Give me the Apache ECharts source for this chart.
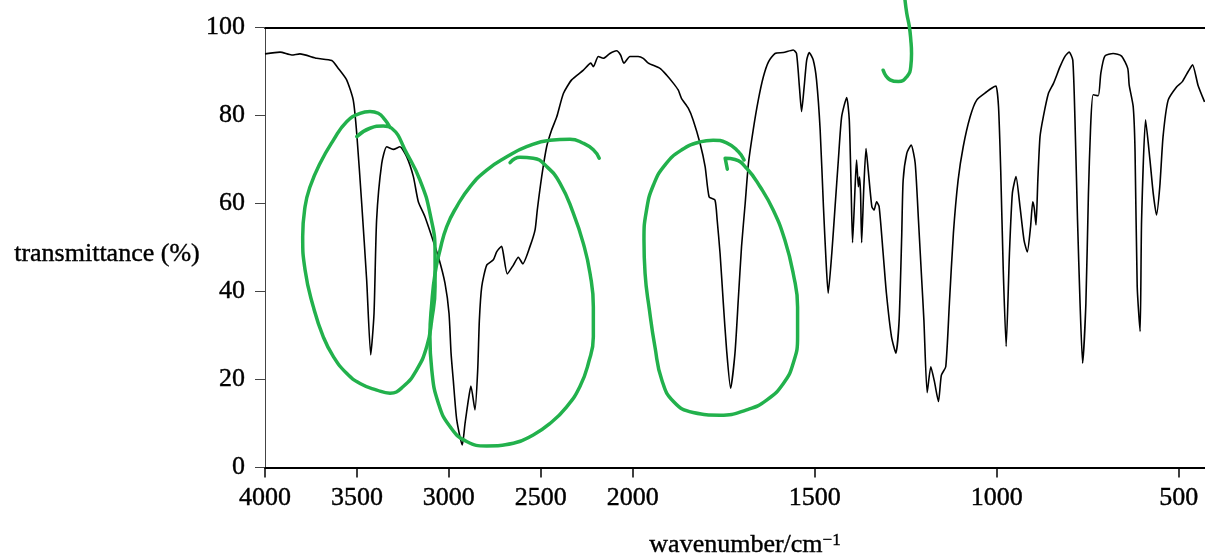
<!DOCTYPE html>
<html>
<head>
<meta charset="utf-8">
<script src="https://cdn.jsdelivr.net/npm/echarts@6/dist/echarts.min.js"></script>
<style>
html,body{margin:0;padding:0;background:#fff;}
#chart{width:1205px;height:558px;}
</style>
</head>
<body>
<div id="chart"></div>
<script>
// ---- data ----
const xTickLabels = [4000, 3500, 3000, 2500, 2000, 1500, 1000, 500];
const yTickLabels = [0, 20, 40, 60, 80, 100];

const wavenumber = [4000,3918,3855,3810,3719,3637,3601,3556,3520,3501,3474,3447,3425,3407,3393,3365,3338,3302,3266,3229,3193,3166,3130,3093,3057,3021,2999,2988,2976,2957,2927,2912,2894,2880,2858,2843,2834,2821,2794,2758,2740,2713,2704,2682,2649,2622,2598,2559,2531,2519,2495,2468,2441,2413,2377,2332,2268,2228,2214,2187,2160,2124,2088,2066,2048,2015,2003,1985,1971,1957,1925,1907,1888,1875,1866,1847,1834,1815,1801,1790,1774,1768,1760,1751,1742,1731,1719,1710,1701,1691,1682,1669,1655,1641,1627,1609,1586,1559,1550,1542,1536,1529,1522,1515,1504,1495,1485,1476,1469,1463,1453,1444,1435,1426,1412,1405,1400,1396,1389,1385,1380,1377,1374,1371,1365,1359,1353,1343,1337,1330,1323,1312,1303,1289,1277,1268,1261,1257,1247,1235,1224,1215,1206,1200,1191,1181,1171,1160,1152,1140,1130,1119,1106,1092,1073,1055,1027,1014,1002,995,989,982,974,965,957,947,936,925,916,907,901,897,892,887,881,872,858,844,826,812,801,791,785,778,771,764,755,748,742,735,721,714,703,680,657,640,636,625,620,614,606,602,591,579,570,561,552,543,529,506,490,474,462,447,429];
const transmittance = [94.0,94.4,93.75,94.0,93.0,92.5,90.7,88.1,83.5,75.9,60,42.6,25.6,35,56.2,69.1,72.9,72.3,72.9,70.6,66.1,60.4,57.0,52.5,47.9,41.9,35,26,19.9,10.8,5.1,10,15.3,18.5,13.1,22.2,33.5,41.1,46,47.2,49,50.3,48.7,44,46,47.8,46.3,50.2,54,58.5,66.1,72.9,76.7,79.7,85,88.1,90.3,91.9,91.1,93.4,93.0,94.1,94.7,93.75,91.9,93.4,93.4,93.4,93.0,91.9,90.7,89.2,87.3,85.8,83.9,81.6,79,73.7,68.4,61.5,60.8,56.3,48.7,37.3,26.7,18,26,38,50.2,60,69.1,76.7,83.5,88.8,92.2,94.1,94.3,94.9,94.1,86.5,80.9,86.5,92.6,94.3,92.6,88.1,76.7,59.3,47.2,39.6,48.7,59.3,69.9,79.7,84.1,79,63.8,51.1,63.8,69.9,63.8,66,62.3,51.1,63.8,72.5,67.6,59.3,58.5,60.4,59.3,48.7,39.6,29.7,26,33.5,52.5,65.3,71.4,73.3,69.2,56.3,42.6,33.5,17,22.9,19.5,15,21,22.9,37.3,53.2,65.3,72.9,79.7,83.5,85.4,86.2,86.7,82,67.6,44.9,27.5,48.7,62.3,66.1,59.3,51.7,49,54.7,60.4,59,55.1,65.3,75.2,79.7,85,87.3,91.1,93.5,94.4,92.6,79,56.3,37.3,23.7,37.3,62.3,77.5,84.7,84.5,89.6,93.5,94.1,93.5,90.7,86.9,82,72,41.1,30.9,56.2,79,69.9,62.3,57.4,63.8,75.2,83.5,86.5,87.7,90,91.5,86.9,83.1];

// hand-drawn green annotations (wavenumber, transmittance)
const loop1W = [3501,3429,3357,3311,3229,3157,3103,3075,3075,3093,3120,3175,3248,3320,3392,3483,3556,3628,3683,3737,3782,3795,3782,3755,3701,3628,3556,3483,3429,3384,3347,3320];
const loop1T = [75.2,77.1,77.6,77.1,71.4,65.3,57.8,48.7,41.1,33.5,27.5,22.2,18.4,16.9,17.6,19.1,21.4,25.2,29.7,36.5,44.9,52.5,59.3,63.8,69.1,74.4,78.6,80.5,80.9,80.5,79.0,77.3];
const loop2W = [2667,2613,2541,2468,2395,2323,2269,2232,2214,2214,2241,2287,2359,2450,2541,2649,2794,2903,2994,3057,3093,3103,3093,3075,3048,3012,2957,2885,2794,2685,2577,2450,2341,2269,2214,2182];
const loop2T = [69.3,70.5,70.3,68.4,64.6,57.8,51.0,44.1,36.5,29.7,23.7,18.4,13.8,10.0,7.4,5.5,4.9,5.9,9.3,14.6,22.2,29.7,37.3,44.1,49.4,54.7,59.3,63.8,67.6,70.6,72.9,74.4,74.6,73.7,72.2,70.3];
const loop3W = [1740,1746,1719,1687,1650,1614,1582,1559,1547,1547,1559,1586,1632,1687,1760,1834,1888,1920,1939,1954,1966,1969,1962,1943,1911,1865,1815,1779,1742,1710,1694];
const loop3T = [67.8,70.3,70.0,68.0,63.8,58.5,51.7,44.1,36.5,29.7,23.7,19.1,15.3,13.1,11.9,12.5,15.0,19.9,27.5,35.8,44.1,51.7,58.5,64.2,68.8,72.2,74.0,74.4,73.8,71.8,69.9];
const hookW = [1252,1247,1240,1236,1234,1236,1247,1270,1293,1312];
const hookT = [106.3,103.2,100.2,97.2,94.1,91.1,88.8,87.7,88.1,90.3];

// ---- axis mapping: scale doubles below 2000 cm-1 ----
const R = 1.98;
function toAxis(w) { return w >= 2000 ? 4000 - w : 2000 + (2000 - w) * R; }
function fromAxis(u) { return u <= 2000 ? 4000 - u : 2000 - (u - 2000) / R; }
function pairs(ws, ts) { return ws.map((w, i) => [toAxis(w), ts[i]]); }

const FONT = "'Liberation Serif', 'Times New Roman', serif";
const FS = 26;
const TXT = {fontFamily: FONT, fontSize: FS, color: '#000', textBorderColor: '#000', textBorderWidth: 0.4};
const xMax = 5113;
const xTickPos = xTickLabels.map(toAxis);

const chart = echarts.init(document.getElementById('chart'), null, {renderer: 'canvas'});
const green = '#22b14c';
function greenSeries(ws, ts, clip) {
  return {
    type: 'line', data: pairs(ws, ts), showSymbol: false, smooth: 0.5,
    clip: clip, silent: true, z: 5,
    lineStyle: {color: green, width: 3.5, cap: 'round', join: 'round'}
  };
}

chart.setOption({
  animation: false,
  backgroundColor: '#fff',
  grid: {left: 265, right: 0, top: 27.5, bottom: 90.5, containLabel: false, outerBoundsMode: 'none'},
  xAxis: [{
    type: 'value', min: 0, max: xMax, position: 'bottom',
    name: '{a|wavenumber/cm}{s|\u22121}',
    nameLocation: 'middle', nameGap: 65,
    nameTextStyle: {
      padding: [0, 0, 0, 20],
      rich: {
        a: Object.assign({}, TXT),
        s: Object.assign({}, TXT, {fontSize: 17, verticalAlign: 'top'})
      }
    },
    axisLine: {show: true, onZero: false, lineStyle: {color: '#000', width: 2}},
    axisTick: {show: true, customValues: xTickPos, length: 10, lineStyle: {color: '#000', width: 1.5}},
    axisLabel: Object.assign({
      customValues: xTickPos, margin: 18,
      formatter: v => String(Math.round(fromAxis(v) / 10) * 10)
    }, TXT),
    splitLine: {show: false}
  }, {
    type: 'value', min: 0, max: xMax, position: 'top',
    axisLine: {show: true, onZero: false, lineStyle: {color: '#000', width: 2}},
    axisTick: {show: false}, axisLabel: {show: false}, splitLine: {show: false}
  }],
  yAxis: {
    type: 'value', min: yTickLabels[0], max: yTickLabels[yTickLabels.length - 1], interval: 20,
    name: 'transmittance (%)', nameLocation: 'middle', nameRotate: 0, nameGap: 65,
    nameTextStyle: Object.assign({verticalAlign: 'top', lineHeight: 14}, TXT),
    axisLine: {show: true, lineStyle: {color: '#444', width: 1}},
    axisTick: {show: true, length: 10, lineStyle: {color: '#444', width: 1}},
    axisLabel: Object.assign({margin: 20}, TXT),
    splitLine: {show: false}
  },
  series: [
    {
      type: 'line', data: pairs(wavenumber, transmittance), showSymbol: false,
      smooth: 0.2, silent: true, z: 3,
      lineStyle: {color: '#000', width: 1.6}
    },
    greenSeries(loop1W, loop1T, true),
    greenSeries(loop2W, loop2T, true),
    greenSeries(loop3W, loop3T, true),
    greenSeries(hookW, hookT, false)
  ]
});
</script>
</body>
</html>
